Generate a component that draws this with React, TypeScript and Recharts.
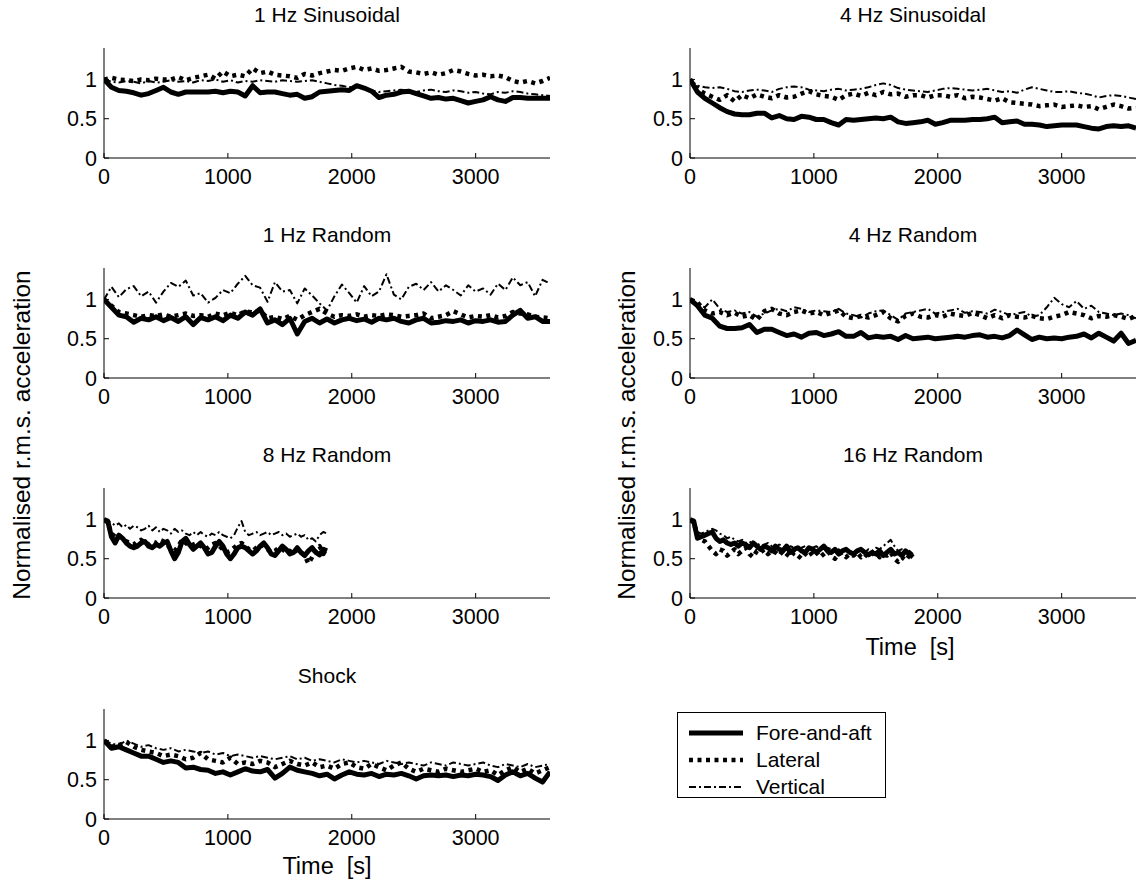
import { LineChart, Line, XAxis, YAxis } from "recharts";

// sample times [s]
const time60 = [
  0, 60, 120, 180, 240, 300, 360, 420, 480, 540,
  600, 660, 720, 780, 840, 900, 960, 1020, 1080, 1140,
  1200, 1260, 1320, 1380, 1440, 1500, 1560, 1620, 1680, 1740,
  1800, 1860, 1920, 1980, 2040, 2100, 2160, 2220, 2280, 2340,
  2400, 2460, 2520, 2580, 2640, 2700, 2760, 2820, 2880, 2940,
  3000, 3060, 3120, 3180, 3240, 3300, 3360, 3420, 3480, 3540,
  3600,
];
const time30 = [
  0, 30, 60, 90, 120, 150, 180, 210, 240, 270,
  300, 330, 360, 390, 420, 450, 480, 510, 540, 570,
  600, 630, 660, 690, 720, 750, 780, 810, 840, 870,
  900, 930, 960, 990, 1020, 1050, 1080, 1110, 1140, 1170,
  1200, 1230, 1260, 1290, 1320, 1350, 1380, 1410, 1440, 1470,
  1500, 1530, 1560, 1590, 1620, 1650, 1680, 1710, 1740, 1770,
  1800,
];

const xTicks = [0, 1000, 2000, 3000];
const yTicks = [0, 0.5, 1];

// 1 Hz Sinusoidal
const sin1Fore = [
  1.0, 0.9, 0.86, 0.85, 0.83, 0.8, 0.82, 0.86, 0.9, 0.84,
  0.81, 0.84, 0.84, 0.84, 0.84, 0.85, 0.83, 0.85, 0.84, 0.79,
  0.92, 0.83, 0.84, 0.84, 0.82, 0.8, 0.81, 0.76, 0.78, 0.84,
  0.85, 0.86, 0.87, 0.86, 0.92, 0.89, 0.85, 0.77, 0.8, 0.81,
  0.84, 0.85, 0.82, 0.79, 0.76, 0.77, 0.75, 0.76, 0.73, 0.7,
  0.72, 0.74, 0.78, 0.74, 0.72, 0.77, 0.77, 0.76, 0.76, 0.76,
  0.76,
];
const sin1Lat = [
  1.0, 1.02, 1.0, 0.99, 0.98, 1.0, 0.99, 1.01, 1.0, 1.0,
  1.03, 0.99, 1.02, 1.04, 1.06, 1.01, 1.1, 1.04, 1.06, 1.04,
  1.14, 1.08, 1.1, 1.06, 1.05, 1.04, 1.02, 1.07, 1.05, 1.08,
  1.1, 1.12, 1.11, 1.14, 1.16, 1.12, 1.14, 1.11, 1.12, 1.14,
  1.16, 1.1, 1.09, 1.07, 1.09, 1.06, 1.08, 1.12, 1.1, 1.07,
  1.05, 1.06, 1.04, 1.05, 1.03, 0.98, 0.96, 0.98, 0.95, 0.98,
  1.02,
];
const sin1Vert = [
  1.0, 0.97, 0.96, 0.98, 0.97, 0.95, 0.98, 0.96, 0.97, 0.99,
  0.97, 0.98, 0.96, 0.99, 0.98, 1.0, 0.97, 0.99, 0.96, 0.98,
  0.97, 0.99, 0.98, 0.97, 0.99, 0.98, 0.97, 0.98, 0.99, 0.97,
  0.95, 0.93, 0.92, 0.9, 0.91, 0.88, 0.86, 0.84, 0.85, 0.86,
  0.87, 0.85, 0.84, 0.86, 0.87, 0.85, 0.84, 0.86, 0.85, 0.83,
  0.84, 0.82, 0.81, 0.84, 0.83, 0.85, 0.84, 0.82, 0.81, 0.8,
  0.79,
];

// 4 Hz Sinusoidal
const sin4Fore = [
  1.0, 0.84, 0.76, 0.7, 0.64, 0.59, 0.56, 0.55, 0.55, 0.57,
  0.57, 0.51, 0.54, 0.5, 0.49, 0.53, 0.52, 0.49, 0.49, 0.45,
  0.42, 0.49, 0.48, 0.49, 0.5, 0.51, 0.5, 0.52, 0.46, 0.44,
  0.45, 0.46, 0.48, 0.43, 0.45, 0.48, 0.48, 0.48, 0.49, 0.49,
  0.5, 0.52, 0.45, 0.46, 0.47, 0.43, 0.43, 0.42, 0.4, 0.41,
  0.42, 0.42, 0.42, 0.4, 0.38, 0.37, 0.4, 0.41, 0.4, 0.41,
  0.38,
];
const sin4Lat = [
  1.0, 0.88, 0.82, 0.78, 0.74, 0.8, 0.72, 0.8, 0.76, 0.81,
  0.78, 0.76, 0.8, 0.77, 0.78, 0.82, 0.85, 0.81, 0.79, 0.78,
  0.74, 0.8, 0.82, 0.79, 0.83, 0.8, 0.84, 0.81, 0.82, 0.78,
  0.8, 0.8, 0.77, 0.8, 0.8, 0.78, 0.8, 0.76, 0.78, 0.77,
  0.75, 0.73, 0.76, 0.71, 0.7, 0.69, 0.68, 0.66, 0.67, 0.68,
  0.65, 0.66, 0.67, 0.65, 0.66, 0.62, 0.65, 0.68, 0.66, 0.63,
  0.64,
];
const sin4Vert = [
  1.0, 0.92, 0.9, 0.89, 0.9, 0.88, 0.85, 0.84, 0.86, 0.87,
  0.86, 0.84, 0.88, 0.9, 0.91, 0.9, 0.87, 0.86, 0.85, 0.87,
  0.88, 0.86, 0.87, 0.88, 0.9, 0.93, 0.95, 0.93, 0.89, 0.87,
  0.86, 0.85, 0.84, 0.86, 0.88, 0.89, 0.88, 0.87, 0.86, 0.87,
  0.88, 0.86, 0.84, 0.85, 0.83, 0.87, 0.9, 0.88, 0.86, 0.84,
  0.84, 0.85, 0.83, 0.82, 0.8, 0.77, 0.79, 0.8, 0.79, 0.77,
  0.75,
];

// 1 Hz Random
const r1Fore = [
  1.0, 0.9, 0.8, 0.78, 0.71, 0.76, 0.74, 0.78, 0.73, 0.77,
  0.72, 0.78, 0.68, 0.77, 0.74, 0.78, 0.73, 0.8, 0.76, 0.84,
  0.8, 0.88, 0.7, 0.74, 0.68, 0.76, 0.56, 0.72, 0.76, 0.7,
  0.75, 0.7, 0.74, 0.76, 0.73, 0.75, 0.71, 0.76, 0.74, 0.76,
  0.72, 0.7, 0.74, 0.76, 0.7, 0.71, 0.73, 0.72, 0.74, 0.7,
  0.73, 0.72, 0.74, 0.71, 0.72, 0.8, 0.86, 0.76, 0.78, 0.72,
  0.72,
];
const r1Lat = [
  1.0, 0.92, 0.84, 0.82, 0.8, 0.78, 0.8, 0.79, 0.81, 0.78,
  0.8, 0.82, 0.79, 0.8, 0.78, 0.82, 0.8, 0.83, 0.8, 0.85,
  0.83, 0.86, 0.76, 0.78, 0.75, 0.79, 0.74, 0.8, 0.84, 0.88,
  0.82, 0.78, 0.8, 0.79, 0.81, 0.78, 0.8, 0.79, 0.81, 0.8,
  0.78, 0.79, 0.8, 0.82, 0.76, 0.78, 0.8, 0.85, 0.81, 0.77,
  0.79, 0.78, 0.8, 0.77, 0.79, 0.84, 0.82, 0.81, 0.78, 0.77,
  0.76,
];
const r1Vert = [
  1.0, 1.16, 1.03, 1.13, 1.17, 1.04, 1.1, 0.96, 1.1, 1.21,
  1.16, 1.24, 1.05, 1.08, 0.96, 1.02, 1.12, 1.08, 1.2, 1.3,
  1.18, 1.15, 0.97, 1.22, 1.1, 1.12, 0.95, 1.14, 1.05, 0.95,
  0.86, 1.04, 1.19, 1.08, 0.96, 1.17, 1.04, 1.1, 1.32, 1.06,
  1.0, 1.16, 1.2, 1.12, 1.22, 1.1, 1.18, 1.12, 1.05, 1.18,
  1.1, 1.14, 1.06, 1.2, 1.12, 1.28, 1.18, 1.22, 1.04, 1.25,
  1.2,
];

// 4 Hz Random
const r4Fore = [
  1.0, 0.92, 0.8, 0.76, 0.66, 0.63, 0.63, 0.64, 0.68, 0.58,
  0.62, 0.62, 0.58, 0.54, 0.56, 0.52, 0.57, 0.58, 0.54, 0.56,
  0.59, 0.53, 0.53, 0.58, 0.51, 0.53, 0.52, 0.53, 0.49, 0.54,
  0.5, 0.51, 0.52, 0.5, 0.51, 0.52, 0.53, 0.52, 0.54, 0.55,
  0.52, 0.53, 0.51, 0.54, 0.61, 0.55, 0.49, 0.52, 0.5, 0.51,
  0.5, 0.52, 0.53, 0.56, 0.51, 0.57, 0.52, 0.47, 0.57, 0.44,
  0.48,
];
const r4Lat = [
  1.0, 0.96, 0.86, 0.82, 0.84, 0.8, 0.83, 0.78, 0.8, 0.74,
  0.85, 0.88, 0.82, 0.8, 0.84, 0.86, 0.82, 0.84, 0.8, 0.83,
  0.86, 0.78, 0.76, 0.79, 0.77, 0.8, 0.84, 0.76, 0.72, 0.79,
  0.82, 0.78, 0.77, 0.8, 0.78, 0.82, 0.8, 0.79, 0.83, 0.8,
  0.76, 0.8, 0.76, 0.8, 0.78, 0.77, 0.79, 0.76, 0.75, 0.78,
  0.8, 0.84, 0.82, 0.8, 0.76, 0.79, 0.78, 0.8, 0.78, 0.75,
  0.79,
];
const r4Vert = [
  1.0, 0.94, 0.9, 1.0, 0.88, 0.84, 0.86, 0.82, 0.84, 0.78,
  0.82, 0.86, 0.88, 0.85, 0.9, 0.88, 0.84, 0.86, 0.85, 0.84,
  0.88, 0.82, 0.8, 0.77, 0.82, 0.85, 0.86, 0.8, 0.74, 0.82,
  0.84, 0.86, 0.88, 0.82, 0.84, 0.86, 0.88, 0.83, 0.85, 0.84,
  0.82, 0.87, 0.84, 0.8, 0.82, 0.84, 0.78, 0.8, 0.9, 1.02,
  0.94, 0.9, 0.98, 0.88, 0.92, 0.84, 0.82, 0.8, 0.82, 0.8,
  0.76,
];

// 8 Hz Random (30 s samples)
const r8Fore = [
  1.0, 0.98, 0.78, 0.7, 0.8, 0.76, 0.7, 0.66, 0.64, 0.66,
  0.7, 0.72, 0.66, 0.64, 0.68, 0.66, 0.7, 0.72, 0.6, 0.5,
  0.58, 0.72, 0.76, 0.68, 0.62, 0.66, 0.7, 0.64, 0.56, 0.58,
  0.66, 0.72, 0.66, 0.56, 0.5, 0.56, 0.64, 0.66, 0.64, 0.6,
  0.56, 0.6, 0.66, 0.7, 0.64, 0.56, 0.54, 0.6, 0.66, 0.62,
  0.56, 0.58, 0.64, 0.58, 0.54, 0.6, 0.64, 0.58, 0.55, 0.62,
  0.6,
];
const r8Lat = [
  1.0, 0.96, 0.82, 0.78, 0.8, 0.74, 0.72, 0.7, 0.68, 0.72,
  0.74, 0.7, 0.68, 0.72, 0.7, 0.74, 0.72, 0.68, 0.62, 0.6,
  0.66, 0.74, 0.7, 0.66, 0.68, 0.7, 0.66, 0.62, 0.64, 0.68,
  0.7, 0.66, 0.62, 0.58, 0.6, 0.64, 0.68, 0.7, 0.66, 0.62,
  0.6, 0.64, 0.68, 0.66, 0.62, 0.58, 0.6, 0.64, 0.62, 0.58,
  0.6, 0.56, 0.62, 0.58, 0.54, 0.44, 0.52, 0.62, 0.66, 0.56,
  0.64,
];
const r8Vert = [
  1.0, 0.98, 0.96, 0.92, 0.95, 0.9, 0.93, 0.88, 0.92, 0.9,
  0.86, 0.88, 0.92, 0.86, 0.9, 0.84, 0.88, 0.86, 0.82, 0.88,
  0.84, 0.86, 0.82, 0.8, 0.84, 0.8, 0.84, 0.8, 0.78, 0.82,
  0.8, 0.84, 0.8, 0.78, 0.76, 0.8, 0.9, 0.98, 0.84, 0.8,
  0.82, 0.84, 0.8, 0.82, 0.84, 0.8, 0.82, 0.84, 0.8, 0.82,
  0.78, 0.8, 0.82, 0.78, 0.8, 0.74, 0.76, 0.72, 0.8, 0.84,
  0.82,
];

// 16 Hz Random (30 s samples)
const r16Fore = [
  1.0, 0.98, 0.76, 0.78, 0.8, 0.82, 0.84, 0.76, 0.72, 0.74,
  0.7, 0.68, 0.7, 0.66, 0.7, 0.68, 0.64, 0.7, 0.66, 0.62,
  0.66, 0.64, 0.6, 0.66, 0.62, 0.6, 0.66, 0.58, 0.62, 0.64,
  0.6, 0.58, 0.64, 0.62, 0.58, 0.62, 0.66, 0.6, 0.58, 0.62,
  0.56, 0.6, 0.62, 0.58, 0.56, 0.6, 0.62, 0.58, 0.55, 0.58,
  0.56, 0.6, 0.54, 0.58, 0.62, 0.56, 0.58, 0.54, 0.6, 0.56,
  0.52,
];
const r16Lat = [
  1.0, 0.96, 0.8, 0.74, 0.72, 0.66, 0.6, 0.56, 0.62, 0.6,
  0.54, 0.58, 0.62, 0.56, 0.6, 0.64, 0.56, 0.52, 0.6, 0.58,
  0.62, 0.56, 0.6, 0.58, 0.54, 0.6, 0.56, 0.52, 0.58, 0.54,
  0.5, 0.56, 0.6, 0.54, 0.58, 0.52, 0.56, 0.6, 0.54, 0.5,
  0.56, 0.58, 0.52, 0.56, 0.54, 0.58, 0.52, 0.56, 0.52, 0.56,
  0.58, 0.52, 0.56, 0.54, 0.58, 0.5, 0.46, 0.52, 0.48, 0.54,
  0.5,
];
const r16Vert = [
  1.0, 0.96, 0.84, 0.82, 0.84, 0.86, 0.88, 0.86, 0.82, 0.8,
  0.76, 0.78, 0.74, 0.72, 0.74, 0.7, 0.72, 0.68, 0.7, 0.66,
  0.68, 0.7, 0.66, 0.64, 0.68, 0.66, 0.62, 0.66, 0.64, 0.6,
  0.64, 0.66, 0.62, 0.64, 0.66, 0.62, 0.6, 0.64, 0.62, 0.6,
  0.62, 0.58, 0.62, 0.6, 0.58, 0.62, 0.6, 0.58, 0.62, 0.6,
  0.64, 0.62, 0.66, 0.7, 0.74, 0.66, 0.6, 0.62, 0.58, 0.6,
  0.56,
];

// Shock
const shockFore = [
  1.0, 0.9, 0.92, 0.88, 0.84, 0.8, 0.8, 0.76, 0.72, 0.74,
  0.72, 0.65, 0.66, 0.63, 0.62, 0.58, 0.6, 0.56, 0.6, 0.64,
  0.61, 0.6, 0.63, 0.52, 0.58, 0.66, 0.62, 0.6, 0.58, 0.55,
  0.57, 0.51, 0.56, 0.6, 0.57, 0.56, 0.58, 0.54, 0.57, 0.56,
  0.58, 0.55, 0.51, 0.55, 0.56, 0.55, 0.56, 0.54, 0.56, 0.55,
  0.57, 0.56, 0.54, 0.49, 0.56, 0.6, 0.55, 0.58, 0.52, 0.47,
  0.6,
];
const shockLat = [
  1.0, 0.92, 0.94, 0.98, 0.92, 0.88, 0.86, 0.84, 0.8, 0.82,
  0.8, 0.76, 0.78, 0.84, 0.76, 0.74, 0.72, 0.78, 0.7, 0.72,
  0.7, 0.74, 0.72, 0.66, 0.7, 0.74, 0.7, 0.68, 0.72, 0.66,
  0.68, 0.64, 0.7, 0.72, 0.66, 0.64, 0.7, 0.66, 0.62, 0.68,
  0.72, 0.64, 0.6, 0.64, 0.62, 0.6, 0.64, 0.62, 0.6, 0.62,
  0.64, 0.6, 0.62, 0.56, 0.62, 0.66, 0.6, 0.64, 0.58, 0.62,
  0.66,
];
const shockVert = [
  1.0, 0.96, 0.94, 1.0, 0.96, 0.92, 0.94, 0.9, 0.88, 0.9,
  0.86, 0.88, 0.86, 0.84, 0.86, 0.82, 0.84, 0.8, 0.82, 0.8,
  0.78, 0.8, 0.78, 0.76, 0.78, 0.8, 0.76, 0.78, 0.74, 0.76,
  0.74, 0.72, 0.76, 0.74, 0.72, 0.74, 0.72, 0.7, 0.74, 0.72,
  0.7, 0.72, 0.7, 0.68, 0.72, 0.7, 0.68, 0.72, 0.7, 0.68,
  0.7, 0.72, 0.68, 0.66, 0.7, 0.68, 0.66, 0.7, 0.66, 0.68,
  0.7,
];

const FONT = '"Liberation Sans", Arial, Helvetica, sans-serif';
const PLOT_W = 446;
const PLOT_H = 110;
const AXIS_W = 60;
const AXIS_H = 40;
const PAD = 3;

const seriesStyles = [
  { key: "fore", name: "Fore-and-aft", width: 5, dash: undefined as string | undefined },
  { key: "lat", name: "Lateral", width: 4.5, dash: "4 4.5" },
  { key: "vert", name: "Vertical", width: 2, dash: "7 3 2 3" },
];

interface PanelProps {
  x: number;
  y: number;
  title: string;
  time: number[];
  fore: number[];
  lat: number[];
  vert: number[];
}

function Panel({ x, y, title, time, fore, lat, vert }: PanelProps) {
  const data = time.map((t, i) => ({ t, fore: fore[i], lat: lat[i], vert: vert[i] }));
  const tickStyle = { fontSize: 21.5, fill: "#000", fontFamily: FONT };
  return (
    <>
      <div
        style={{
          position: "absolute",
          left: x,
          top: y - 46,
          width: PLOT_W,
          textAlign: "center",
          fontSize: 21,
          lineHeight: "26px",
        }}
      >
        {title}
      </div>
      <div style={{ position: "absolute", left: x - AXIS_W, top: y - PAD }}>
        <LineChart
          width={AXIS_W + PLOT_W + PAD}
          height={PAD + PLOT_H + AXIS_H}
          data={data}
          margin={{ top: PAD, right: PAD, bottom: 0, left: 0 }}
        >
          <XAxis
            dataKey="t"
            type="number"
            domain={[0, 3600]}
            ticks={xTicks}
            interval={0}
            tickSize={-5}
            tickMargin={16}
            height={AXIS_H}
            stroke="#000"
            tick={tickStyle}
            allowDataOverflow
          />
          <XAxis
            xAxisId="top"
            orientation="top"
            dataKey="t"
            type="number"
            domain={[0, 3600]}
            ticks={xTicks}
            tick={false}
            tickSize={-5}
            height={0}
            stroke="#000"
            allowDataOverflow
          />
          <YAxis
            type="number"
            domain={[0, 1.4]}
            ticks={yTicks}
            interval={0}
            tickSize={-5}
            tickMargin={12}
            width={AXIS_W}
            stroke="#000"
            tick={tickStyle}
            allowDataOverflow
          />
          <YAxis
            yAxisId="right"
            orientation="right"
            type="number"
            domain={[0, 1.4]}
            ticks={yTicks}
            tick={false}
            tickSize={-5}
            width={0}
            stroke="#000"
            allowDataOverflow
          />
          {seriesStyles.map((s) => (
            <Line
              key={s.key}
              dataKey={s.key}
              type="linear"
              stroke="#000"
              strokeWidth={s.width}
              strokeDasharray={s.dash}
              strokeLinejoin="round"
              dot={false}
              activeDot={false}
              isAnimationActive={false}
            />
          ))}
        </LineChart>
      </div>
    </>
  );
}

function LegendBox() {
  return (
    <div
      style={{
        position: "absolute",
        left: 677,
        top: 712,
        width: 209,
        height: 86,
        border: "1px solid #000",
        background: "#fff",
        boxSizing: "border-box",
      }}
    >
      {seriesStyles.map((s, i) => (
        <div
          key={s.key}
          style={{
            position: "absolute",
            left: 10,
            top: 6 + i * 27,
            height: 27,
            display: "flex",
            alignItems: "center",
            fontSize: 21,
          }}
        >
          <svg width={56} height={10} style={{ marginRight: 12 }}>
            <line
              x1={1}
              y1={5}
              x2={55}
              y2={5}
              stroke="#000"
              strokeWidth={s.width}
              strokeDasharray={s.dash}
            />
          </svg>
          <span>{s.name}</span>
        </div>
      ))}
    </div>
  );
}

const yLabelStyle = (cx: number): React.CSSProperties => ({
  position: "absolute",
  left: cx - 220,
  top: 435 - 15,
  width: 440,
  height: 30,
  lineHeight: "30px",
  textAlign: "center",
  fontSize: 24.5,
  transform: "rotate(-90deg)",
});

const timeLabelStyle = (cx: number, cy: number): React.CSSProperties => ({
  position: "absolute",
  left: cx - 100,
  top: cy - 15,
  width: 200,
  lineHeight: "30px",
  textAlign: "center",
  fontSize: 23.5,
  whiteSpace: "pre",
});

export default function App() {
  const LX = 104;
  const RX = 690;
  return (
    <div
      style={{
        position: "absolute",
        left: 0,
        top: 0,
        width: 1145,
        height: 884,
        background: "#fff",
        fontFamily: FONT,
        color: "#000",
      }}
    >
      <Panel x={LX} y={48} title="1 Hz Sinusoidal" time={time60} fore={sin1Fore} lat={sin1Lat} vert={sin1Vert} />
      <Panel x={RX} y={48} title="4 Hz Sinusoidal" time={time60} fore={sin4Fore} lat={sin4Lat} vert={sin4Vert} />
      <Panel x={LX} y={268} title="1 Hz Random" time={time60} fore={r1Fore} lat={r1Lat} vert={r1Vert} />
      <Panel x={RX} y={268} title="4 Hz Random" time={time60} fore={r4Fore} lat={r4Lat} vert={r4Vert} />
      <Panel x={LX} y={488} title="8 Hz Random" time={time30} fore={r8Fore} lat={r8Lat} vert={r8Vert} />
      <Panel x={RX} y={488} title="16 Hz Random" time={time30} fore={r16Fore} lat={r16Lat} vert={r16Vert} />
      <Panel x={LX} y={709} title="Shock" time={time60} fore={shockFore} lat={shockLat} vert={shockVert} />

      <div style={yLabelStyle(22)}>Normalised r.m.s. acceleration</div>
      <div style={yLabelStyle(627)}>Normalised r.m.s. acceleration</div>

      <div style={timeLabelStyle(910, 647)}>{"Time  [s]"}</div>
      <div style={timeLabelStyle(327, 866)}>{"Time  [s]"}</div>

      <LegendBox />
    </div>
  );
}
